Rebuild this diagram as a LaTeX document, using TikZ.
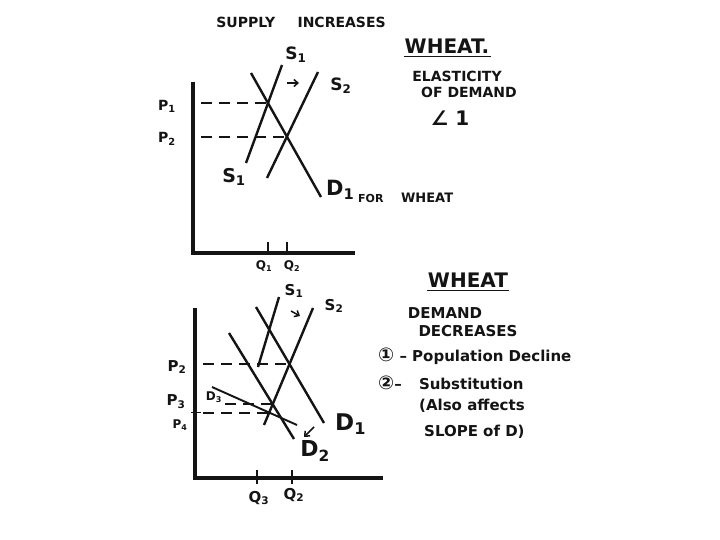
\documentclass[tikz,border=0pt]{standalone}
\usepackage{fontspec}
\setmainfont{DejaVu Sans}
\definecolor{trigoTinta}{HTML}{141414}
\definecolor{trigoPapel}{HTML}{FFFFFF}
\usetikzlibrary{
	arrows.meta
}
\newcommand{\tam}[1]{\fontsize{#1}{#1}\selectfont}
\tikzset{
	eje/.style={
		line width=3.4pt,
		trigoTinta
	},
	curva/.style={
		line width=2.4pt,
		trigoTinta
	},
	guia/.style={
		line width=1.8pt,
		trigoTinta,
		dash pattern=on 11pt off 7pt
	},
	marca/.style={
		line width=1.7pt,
		trigoTinta
	},
	flechita/.style={
		-{Straight Barb[length=4pt,width=7pt]},
		line width=1.5pt,
		trigoTinta
	},
	rotulo/.style={
		font=\tam{14}\bfseries,
		text=trigoTinta,
		inner sep=1pt
	},
	rotuloGrande/.style={
		font=\tam{20}\bfseries,
		text=trigoTinta,
		inner sep=1pt
	},
	nota/.style={
		font=\tam{15}\bfseries,
		text=trigoTinta,
		inner sep=1pt,
		anchor=west
	}
}

\begin{document}
\begin{tikzpicture}[x=1pt,y=-1pt]
		\useasboundingbox[fill=trigoPapel] (0,0) rectangle (720,540);
		% oferta aumenta
		\coordinate (origenA) at (193,253);
		\coordinate (ejeYA) at (193,82);
		\coordinate (ejeXA) at (355,253);
		\coordinate (guiaA) at (201,253);
		\coordinate (sUnoA1) at (246,163);
		\coordinate (sUnoA2) at (282,65);
		\coordinate (sDosA1) at (267,178);
		\coordinate (sDosA2) at (318,72);
		\coordinate (dUnoA1) at (251,73);
		\coordinate (dUnoA2) at (321,197);
		\coordinate (equilUnoA) at (intersection of sUnoA1--sUnoA2 and dUnoA1--dUnoA2);
		\coordinate (equilDosA) at (intersection of sDosA1--sDosA2 and dUnoA1--dUnoA2);
		\draw[eje] (ejeYA) -- (origenA) -- (ejeXA);
		\draw[curva] (sUnoA1) -- (sUnoA2);
		\draw[curva] (sDosA1) -- (sDosA2);
		\draw[curva] (dUnoA1) -- (dUnoA2);
		\draw[guia] (guiaA |- equilUnoA) -- (equilUnoA);
		\draw[guia] (guiaA |- equilDosA) -- (equilDosA);
		\foreach \e in {equilUnoA,equilDosA}{\draw[marca] (\e |- origenA) ++(0,-11) -- ++(0,13);}
		\coordinate (flechaA1) at (287,83);
		\coordinate (flechaA2) at (299,83);
		\draw[flechita] (flechaA1) -- (flechaA2);
		\node[rotulo, font=\tam{14}\bfseries] (tituloOferta) at (301,22) {SUPPLY\hspace{1.6em}INCREASES};
		\node[rotulo, font=\tam{17}\bfseries] (sUnoArriba) at (296,55) {S\textsubscript{1}};
		\node[rotulo, font=\tam{17}\bfseries] (sDosArriba) at (341,86) {S\textsubscript{2}};
		\node[rotulo, font=\tam{19}\bfseries] (sUnoAbajo) at (234,177) {S\textsubscript{1}};
		\node[rotuloGrande, font=\tam{21}\bfseries, anchor=west] (dUnoEtiqueta) at (325,190) {D\textsubscript{1}};
		\node[rotulo, font=\tam{11}\bfseries, anchor=west] (paraTrigo) at (357,198) {FOR\hspace{1.6em}\tam{13}WHEAT};
		\node[rotulo] (precioUno) at (167,106) {P\textsubscript{1}};
		\node[rotulo] (precioDos) at (167,139) {P\textsubscript{2}};
		\node[rotulo, font=\tam{12}\bfseries] (cantUno) at (264,266) {Q\textsubscript{1}};
		\node[rotulo, font=\tam{12}\bfseries] (cantDos) at (292,266) {Q\textsubscript{2}};
		\node[rotuloGrande] (trigoA) at (447,46) {WHEAT.};
		\draw[marca] ([yshift=-2pt]trigoA.south west) -- ([yshift=-2pt]trigoA.south east);
		\node[rotulo] (elasticidad) at (457,76) {ELASTICITY};
		\node[rotulo] (deDemanda) at (469,92) {OF DEMAND};
		\node[rotuloGrande] (menorUno) at (450,118) {∠ 1};
		% demanda disminuye
		\coordinate (origenB) at (195,478);
		\coordinate (ejeYB) at (195,308);
		\coordinate (ejeXB) at (383,478);
		\coordinate (guiaB) at (203,478);
		\coordinate (guiaTresB) at (225,478);
		\coordinate (sUnoB1) at (258,367);
		\coordinate (sUnoB2) at (279,297);
		\coordinate (sDosB1) at (264,425);
		\coordinate (sDosB2) at (313,308);
		\coordinate (dUnoB1) at (256,307);
		\coordinate (dUnoB2) at (324,423);
		\coordinate (dDosB1) at (229,333);
		\coordinate (dDosB2) at (294,439);
		\coordinate (dTresB1) at (212,387);
		\coordinate (dTresB2) at (297,425);
		\coordinate (equilDosB) at (intersection of sDosB1--sDosB2 and dUnoB1--dUnoB2);
		\coordinate (equilTresB) at (intersection of sDosB1--sDosB2 and dDosB1--dDosB2);
		\coordinate (equilCuatroB) at (intersection of sDosB1--sDosB2 and dTresB1--dTresB2);
		\coordinate (marcaTresB) at (257,478);
		\coordinate (marcaDosB) at (292,478);
		\draw[eje] (ejeYB) -- (origenB) -- (ejeXB);
		\draw[curva] (sUnoB1) -- (sUnoB2);
		\draw[curva] (sDosB1) -- (sDosB2);
		\draw[curva] (dUnoB1) -- (dUnoB2);
		\draw[curva] (dDosB1) -- (dDosB2);
		\draw[curva, line width=1.9pt] (dTresB1) -- (dTresB2);
		\draw[guia] (guiaB |- equilDosB) -- (equilDosB);
		\draw[guia] (guiaTresB |- equilTresB) -- (equilTresB);
		\draw[guia] (guiaB |- equilCuatroB) -- (equilCuatroB);
		\draw[marca] (origenB |- equilCuatroB) ++(-4,0) -- ++(10,0);
		\foreach \e in {marcaTresB,marcaDosB}{\draw[marca] (\e) ++(0,-8) -- ++(0,14);}
		\coordinate (flechaB1) at (291,311);
		\coordinate (flechaB2) at (300,316);
		\draw[flechita] (flechaB1) -- (flechaB2);
		\coordinate (flechaC1) at (314,427);
		\coordinate (flechaC2) at (304,437);
		\draw[flechita] (flechaC1) -- (flechaC2);
		\node[rotulo, font=\tam{15}\bfseries] (sUnoB) at (294,291) {S\textsubscript{1}};
		\node[rotulo, font=\tam{15}\bfseries] (sDosB) at (334,306) {S\textsubscript{2}};
		\node[rotuloGrande, font=\tam{23}\bfseries, anchor=west] (dUnoB) at (334,424) {D\textsubscript{1}};
		\node[rotuloGrande, font=\tam{22}\bfseries] (dDosB) at (315,451) {D\textsubscript{2}};
		\node[rotulo, font=\tam{12}\bfseries] (dTresB) at (214,397) {D\textsubscript{3}};
		\node[rotulo, font=\tam{15}\bfseries] (precioDosB) at (177,367) {P\textsubscript{2}};
		\node[rotulo, font=\tam{15}\bfseries] (precioTresB) at (176,402) {P\textsubscript{3}};
		\node[rotulo, font=\tam{12}\bfseries] (precioCuatroB) at (180,425) {P\textsubscript{4}};
		\node[rotulo, font=\tam{15}\bfseries] (cantTresB) at (259,498) {Q\textsubscript{3}};
		\node[rotulo, font=\tam{15}\bfseries] (cantDosB) at (294,495) {Q\textsubscript{2}};
		\node[rotuloGrande] (trigoB) at (468,280) {WHEAT};
		\draw[marca] ([yshift=-2pt]trigoB.south west) -- ([yshift=-2pt]trigoB.south east);
		\node[rotulo, font=\tam{15}\bfseries] (demanda) at (445,313) {DEMAND};
		\node[rotulo, font=\tam{15}\bfseries] (disminuye) at (468,331) {DECREASES};
		\node[nota] (causaUno) at (377,356) {{\tam{19}①} – Population Decline};
		\node[nota] (causaDos) at (377,383) {{\tam{19}②}– \hspace{0.8em}Substitution};
		\node[nota] (tambien) at (418,406) {(Also affects};
		\node[nota] (pendiente) at (423,432) {SLOPE of D)};
	\end{tikzpicture}
\end{document}
